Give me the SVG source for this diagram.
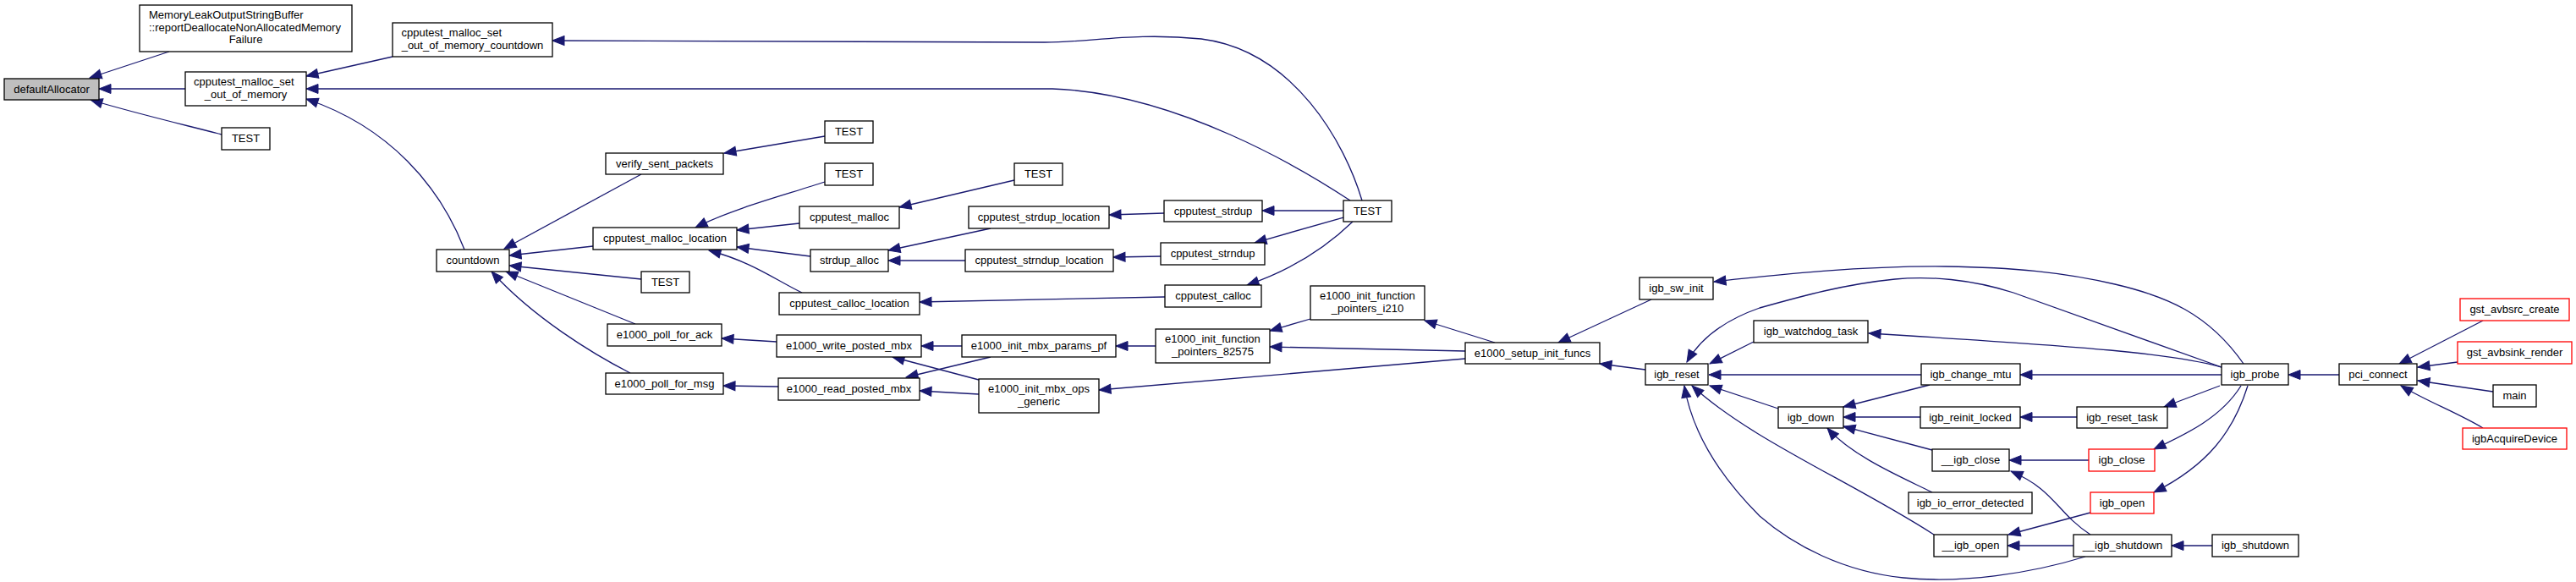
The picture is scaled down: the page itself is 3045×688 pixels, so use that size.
<svg xmlns="http://www.w3.org/2000/svg" width="3045" height="688" viewBox="0 0 3045 688">
<style>
.n rect{fill:#fff;stroke:#000;stroke-width:1.3}
.n.hl rect{fill:#bfbfbf}
.n.red rect{stroke:#ff0000}
text{font-family:"Liberation Sans",Arial,Helvetica,sans-serif;font-size:13px;fill:#000}
.c{text-anchor:middle}
#edges path{fill:none;stroke:#191970;stroke-width:1.3;marker-end:url(#a)}
</style>
<defs>
<marker id="a" markerUnits="userSpaceOnUse" markerWidth="16" markerHeight="13" refX="14" refY="5.5" orient="auto" viewBox="-1 -1 16 13">
<path d="M0,0 L14,5.5 L0,11 Z" fill="#191970" stroke="#191970" stroke-width="1"/>
</marker>
</defs>
<rect width="3045" height="688" fill="#fff"/>
<g id="edges">
<path d="M200,61 L106,92"/>
<path d="M219,105 L117,105"/>
<path d="M262,159 C220,148 160,134 107,118"/>
<path d="M464,67 L362,90"/>
<path d="M1610,237 C1590,170 1530,60 1420,46 C1340,38 1290,50 1235,50 L653,48"/>
<path d="M1596,237 C1540,200 1390,110 1244,105 L362,105"/>
<path d="M549,295 C520,220 460,150 362,117"/>
<path d="M758,206 L596,294"/>
<path d="M975,161 L856,181"/>
<path d="M701,291 L602,302"/>
<path d="M758,330 L602,314"/>
<path d="M751,383 L598,321"/>
<path d="M745,441 C700,418 630,375 581,321"/>
<path d="M945,264 L871,272"/>
<path d="M975,215 C930,230 870,245 822,269"/>
<path d="M958,303 L871,292"/>
<path d="M948,346 C915,330 890,310 838,296"/>
<path d="M1199,213 L1063,245"/>
<path d="M1171,270 L1050,296"/>
<path d="M1141,308 L1050,308"/>
<path d="M1376,252 L1311,254"/>
<path d="M1372,303 L1316,304"/>
<path d="M1377,351 L1087,357"/>
<path d="M1588,249 L1492,249"/>
<path d="M1588,257 L1483,287"/>
<path d="M1599,262 C1570,290 1530,318 1474,337"/>
<path d="M918,404 L853,400"/>
<path d="M920,457 L855,456"/>
<path d="M1137,409 L1089,409"/>
<path d="M1171,422 L1071,446"/>
<path d="M1157,449 L1055,422"/>
<path d="M1157,466 L1087,462"/>
<path d="M1366,409 L1319,409"/>
<path d="M1732,424 L1299,461"/>
<path d="M1549,377 L1501,391"/>
<path d="M1732,415 L1501,410"/>
<path d="M1767,405 L1684,379"/>
<path d="M1952,354 L1842,405"/>
<path d="M1945,437 L1891,430"/>
<path d="M2652,430 C2610,370 2560,350 2500,336 C2440,322 2380,316 2300,315 C2200,314 2100,325 2026,333"/>
<path d="M2626,434 L2380,346 C2330,330 2280,326 2240,330 C2180,336 2130,350 2080,364 C2040,378 2010,400 1994,428"/>
<path d="M2073,404 L2021,430"/>
<path d="M2271,443 L2020,443"/>
<path d="M2102,483 L2021,456"/>
<path d="M2286,632 C2190,570 2070,520 2000,456"/>
<path d="M2465,658 C2400,678 2320,690 2250,683 C2180,676 2120,645 2080,610 C2030,560 2000,510 1991,456"/>
<path d="M2626,434 C2570,418 2470,410 2209,394"/>
<path d="M2626,443 L2388,443"/>
<path d="M2624,456 L2558,481"/>
<path d="M2649,456 C2625,495 2580,515 2546,531"/>
<path d="M2657,456 C2640,510 2610,550 2546,582"/>
<path d="M2765,443 L2705,443"/>
<path d="M2935,379 L2836,430"/>
<path d="M2905,428 L2858,434"/>
<path d="M2947,463 L2858,450"/>
<path d="M2935,506 C2905,488 2870,475 2838,456"/>
<path d="M2281,455 L2179,481"/>
<path d="M2270,493 L2179,493"/>
<path d="M2455,493 L2388,493"/>
<path d="M2284,532 L2179,504"/>
<path d="M2284,582 C2250,565 2190,540 2160,506"/>
<path d="M2469,544 L2375,544"/>
<path d="M2471,632 C2430,605 2430,580 2377,557"/>
<path d="M2471,606 L2374,632"/>
<path d="M2451,645 L2373,645"/>
<path d="M2615,645 L2567,645"/>
</g>
<g id="n1" class="n hl"><rect x="5" y="93" width="112" height="25"/><text class="c" x="61" y="109.5">defaultAllocator</text></g>
<g id="n2" class="n"><rect x="165" y="6" width="251" height="55"/><text x="176" y="21.5">MemoryLeakOutputStringBuffer</text><text x="176" y="36.5">::reportDeallocateNonAllocatedMemory</text><text class="c" x="290.5" y="51">Failure</text></g>
<g id="n3" class="n"><rect x="219" y="85" width="143" height="40"/><text x="229" y="100.5">cpputest_malloc_set</text><text class="c" x="290.5" y="115.5">_out_of_memory</text></g>
<g id="n4" class="n"><rect x="262" y="151" width="57" height="26"/><text class="c" x="290.5" y="168">TEST</text></g>
<g id="n5" class="n"><rect x="464" y="27" width="189" height="40"/><text x="474.5" y="42.5">cpputest_malloc_set</text><text class="c" x="558.5" y="57.5">_out_of_memory_countdown</text></g>
<g id="n6" class="n"><rect x="516" y="295" width="86" height="26"/><text class="c" x="559" y="312">countdown</text></g>
<g id="n7" class="n"><rect x="716" y="181" width="139" height="25"/><text class="c" x="785.5" y="197.5">verify_sent_packets</text></g>
<g id="n8" class="n"><rect x="975" y="143" width="57" height="26"/><text class="c" x="1003.5" y="160">TEST</text></g>
<g id="n9" class="n"><rect x="975" y="193" width="57" height="26"/><text class="c" x="1003.5" y="210">TEST</text></g>
<g id="n10" class="n"><rect x="701" y="269" width="170" height="26"/><text class="c" x="786" y="286">cpputest_malloc_location</text></g>
<g id="n11" class="n"><rect x="945" y="244" width="118" height="26"/><text class="c" x="1004" y="261">cpputest_malloc</text></g>
<g id="n12" class="n"><rect x="1199" y="193" width="57" height="26"/><text class="c" x="1227.5" y="210">TEST</text></g>
<g id="n13" class="n"><rect x="1145" y="244" width="166" height="26"/><text class="c" x="1228" y="261">cpputest_strdup_location</text></g>
<g id="n14" class="n"><rect x="958" y="295" width="92" height="26"/><text class="c" x="1004" y="312">strdup_alloc</text></g>
<g id="n15" class="n"><rect x="1141" y="295" width="175" height="26"/><text class="c" x="1228.5" y="312">cpputest_strndup_location</text></g>
<g id="n16" class="n"><rect x="758" y="321" width="57" height="25"/><text class="c" x="786.5" y="337.5">TEST</text></g>
<g id="n17" class="n"><rect x="1376" y="237" width="116" height="25"/><text class="c" x="1434" y="253.5">cpputest_strdup</text></g>
<g id="n18" class="n"><rect x="1372" y="287" width="123" height="26"/><text class="c" x="1433.5" y="304">cpputest_strndup</text></g>
<g id="n19" class="n"><rect x="1377" y="337" width="114" height="26"/><text class="c" x="1434" y="354">cpputest_calloc</text></g>
<g id="n20" class="n"><rect x="921" y="346" width="166" height="26"/><text class="c" x="1004" y="363">cpputest_calloc_location</text></g>
<g id="n21" class="n"><rect x="718" y="383" width="135" height="26"/><text class="c" x="785.5" y="400">e1000_poll_for_ack</text></g>
<g id="n22" class="n"><rect x="716" y="441" width="139" height="25"/><text class="c" x="785.5" y="457.5">e1000_poll_for_msg</text></g>
<g id="n23" class="n"><rect x="918" y="396" width="171" height="26"/><text class="c" x="1003.5" y="413">e1000_write_posted_mbx</text></g>
<g id="n24" class="n"><rect x="920" y="447" width="167" height="26"/><text class="c" x="1003.5" y="464">e1000_read_posted_mbx</text></g>
<g id="n25" class="n"><rect x="1137" y="396" width="182" height="26"/><text class="c" x="1228" y="413">e1000_init_mbx_params_pf</text></g>
<g id="n26" class="n"><rect x="1157" y="448" width="142" height="40"/><text x="1168" y="463.5">e1000_init_mbx_ops</text><text class="c" x="1228" y="478.5">_generic</text></g>
<g id="n27" class="n"><rect x="1366" y="389" width="135" height="40"/><text x="1377" y="404.5">e1000_init_function</text><text class="c" x="1433.5" y="419.5">_pointers_82575</text></g>
<g id="n28" class="n"><rect x="1549" y="338" width="135" height="40"/><text x="1560" y="353.5">e1000_init_function</text><text class="c" x="1616.5" y="368.5">_pointers_i210</text></g>
<g id="n29" class="n"><rect x="1732" y="405" width="159" height="25"/><text class="c" x="1811.5" y="421.5">e1000_setup_init_funcs</text></g>
<g id="n30" class="n"><rect x="1588" y="237" width="57" height="25"/><text class="c" x="1616.5" y="253.5">TEST</text></g>
<g id="n31" class="n"><rect x="1938" y="328" width="87" height="26"/><text class="c" x="1981.5" y="345">igb_sw_init</text></g>
<g id="n32" class="n"><rect x="1945" y="430" width="74" height="25"/><text class="c" x="1982" y="446.5">igb_reset</text></g>
<g id="n33" class="n"><rect x="2073" y="379" width="135" height="26"/><text class="c" x="2140.5" y="396">igb_watchdog_task</text></g>
<g id="n34" class="n"><rect x="2271" y="430" width="117" height="25"/><text class="c" x="2329.5" y="446.5">igb_change_mtu</text></g>
<g id="n35" class="n"><rect x="2626" y="430" width="79" height="25"/><text class="c" x="2665.5" y="446.5">igb_probe</text></g>
<g id="n36" class="n"><rect x="2765" y="430" width="92" height="25"/><text class="c" x="2811" y="446.5">pci_connect</text></g>
<g id="n37" class="n red"><rect x="2908" y="353" width="129" height="26"/><text class="c" x="2972.5" y="370">gst_avbsrc_create</text></g>
<g id="n38" class="n red"><rect x="2905" y="404" width="135" height="26"/><text class="c" x="2972.5" y="421">gst_avbsink_render</text></g>
<g id="n39" class="n"><rect x="2947" y="455" width="51" height="26"/><text class="c" x="2972.5" y="472">main</text></g>
<g id="n40" class="n red"><rect x="2911" y="506" width="123" height="25"/><text class="c" x="2972.5" y="522.5">igbAcquireDevice</text></g>
<g id="n41" class="n"><rect x="2102" y="481" width="77" height="25"/><text class="c" x="2140.5" y="497.5">igb_down</text></g>
<g id="n42" class="n"><rect x="2270" y="481" width="118" height="25"/><text class="c" x="2329" y="497.5">igb_reinit_locked</text></g>
<g id="n43" class="n"><rect x="2455" y="481" width="107" height="25"/><text class="c" x="2508.5" y="497.5">igb_reset_task</text></g>
<g id="n44" class="n"><rect x="2284" y="531" width="91" height="26"/><text class="c" x="2329.5" y="548">__igb_close</text></g>
<g id="n45" class="n red"><rect x="2469" y="531" width="78" height="26"/><text class="c" x="2508" y="548">igb_close</text></g>
<g id="n46" class="n"><rect x="2256" y="582" width="146" height="25"/><text class="c" x="2329" y="598.5">igb_io_error_detected</text></g>
<g id="n47" class="n red"><rect x="2471" y="582" width="75" height="25"/><text class="c" x="2508.5" y="598.5">igb_open</text></g>
<g id="n48" class="n"><rect x="2286" y="632" width="87" height="26"/><text class="c" x="2329.5" y="649">__igb_open</text></g>
<g id="n49" class="n"><rect x="2451" y="632" width="116" height="26"/><text class="c" x="2509" y="649">__igb_shutdown</text></g>
<g id="n50" class="n"><rect x="2615" y="632" width="102" height="26"/><text class="c" x="2666" y="649">igb_shutdown</text></g>
</svg>
